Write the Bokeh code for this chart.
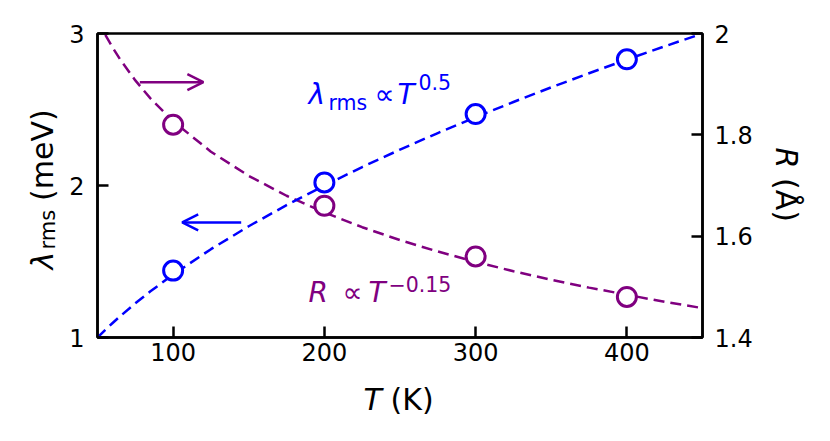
import math
from bokeh.plotting import figure
from bokeh.models import Range1d, LinearAxis, FixedTicker, Label, Arrow, OpenHead
from bokeh.core.properties import value
from bokeh.embed import file_html
from bokeh.resources import INLINE

# ---------------- data ----------------
temps = [100, 200, 300, 400]                 # T (K)
lambda_rms = [1.44, 2.02, 2.47, 2.83]        # meV (left axis)
radius_R = [1.82, 1.66, 1.56, 1.48]          # Angstrom (right axis)

fit_T = [50, 55, 60, 65, 75, 85, 100, 125, 150, 175, 200, 225, 250,
         275, 300, 325, 350, 375, 400, 425, 450]
fit_lambda = [1.0, 1.0488, 1.0954, 1.1402, 1.2247, 1.3038, 1.4142, 1.5811,
              1.7321, 1.8708, 2.0, 2.1213, 2.2361, 2.3452, 2.4495, 2.5495,
              2.6458, 2.7386, 2.8284, 2.9155, 3.0]
fit_R = [2.0270, 1.9981, 1.9723, 1.9487, 1.9074, 1.8719, 1.8268, 1.7667,
         1.7190, 1.6798, 1.6470, 1.6177, 1.5922, 1.5697, 1.5493, 1.5308,
         1.5139, 1.4984, 1.4844, 1.4704, 1.4580]

t_ticks = [100, 200, 300, 400]
lam_ticks = [1, 2, 3]
r_ticks = [1.4, 1.6, 1.8, 2.0]
r_tick_labels = {2.0: "2"}

BLUE = "#0000ff"
PURPLE = "#800080"
FONT = "DejaVu Sans"
SHIFT = 0.346   # bokeh's text anchor sits this many em above the glyph baseline

X0, X1 = 50, 450
Y0, Y1 = 1, 3
FW, FH = 605, 304

p = figure(frame_width=FW, frame_height=FH,
           x_range=Range1d(X0, X1), y_range=Range1d(Y0, Y1),
           output_backend="svg", toolbar_location=None,
           min_border_left=97, min_border_right=112,
           min_border_top=33, min_border_bottom=88,
           background_fill_color="white", border_fill_color="white")
p.extra_y_ranges = {"R": Range1d(1.4, 2.0)}
raxis = LinearAxis(y_range_name="R")
p.add_layout(raxis, "right")

p.xgrid.visible = False
p.ygrid.visible = False
p.outline_line_color = "black"
p.outline_line_width = 2.5
p.outline_line_alpha = 1.0

p.xaxis.ticker = FixedTicker(ticks=t_ticks)
p.yaxis[0].ticker = FixedTicker(ticks=lam_ticks)
raxis.ticker = FixedTicker(ticks=r_ticks)
raxis.major_label_overrides = r_tick_labels

for ax, standoff in [(p.xaxis[0], 5), (p.yaxis[0], 13), (raxis, 12)]:
    ax.axis_line_width = 2.5
    ax.axis_line_color = "black"
    ax.major_tick_in = 11
    ax.major_tick_out = 0
    ax.minor_tick_in = 0
    ax.minor_tick_out = 0
    ax.major_tick_line_width = 2.5
    ax.major_tick_line_color = "black"
    ax.major_label_text_font = FONT
    ax.major_label_text_font_size = "24px"
    ax.major_label_text_color = "black"
    ax.major_label_standoff = standoff
    ax.axis_label = None

# fits (dashed) and data (open circles)
p.line(fit_T, fit_R, y_range_name="R", line_color=PURPLE, line_width=2.5,
       line_dash="11 6")
p.line(fit_T, fit_lambda, line_color=BLUE, line_width=2.5, line_dash="11 6")
p.scatter(temps, radius_R, y_range_name="R", marker="circle", size=19,
          line_color=PURPLE, line_width=3, fill_color="white")
p.scatter(temps, lambda_rms, marker="circle", size=19,
          line_color=BLUE, line_width=3, fill_color="white")

# arrows pointing to the respective axes
p.add_layout(Arrow(end=OpenHead(size=16, line_color=PURPLE, line_width=2.5),
                   x_start=78, y_start=2.68, x_end=120, y_end=2.68,
                   line_color=PURPLE, line_width=2.5))
p.add_layout(Arrow(end=OpenHead(size=16, line_color=BLUE, line_width=2.5),
                   x_start=145, y_start=1.757, x_end=106, y_end=1.757,
                   line_color=BLUE, line_width=2.5))


def lab(text, x, base_y, size, color, italic=False):
    # base_y: glyph baseline, frame pixels measured upward from frame bottom
    p.add_layout(Label(x=x, y=base_y + SHIFT * size,
                       x_units="screen", y_units="screen",
                       text=text, text_font=FONT,
                       text_font_size=f"{size}px", text_color=color,
                       text_font_style="italic" if italic else "normal",
                       text_align="left", text_baseline="alphabetic"))


# in-plot annotations
lab("λ", 211, 233.3, 28, BLUE, italic=True)
lab("rms", 231, 227.7, 20.5, BLUE)
lab("∝", 277, 233.3, 28, BLUE)
lab("T", 300, 233.3, 28, BLUE, italic=True)
lab("0.5", 321, 248.3, 20.5, BLUE)

lab("R", 211, 35.3, 28, PURPLE, italic=True)
lab("∝", 245, 35.3, 28, PURPLE)
lab("T", 271, 35.3, 28, PURPLE, italic=True)
lab("−0.15", 291, 46.5, 20.5, PURPLE)


# axis titles: text glyphs on the overlay level so they can sit outside the frame
def title_piece(text, px, py, size, angle=0.0, italic=False):
    xd = X0 + px * (X1 - X0) / FW
    yd = Y0 + py * (Y1 - Y0) / FH
    p.text(x=[xd], y=[yd], text=[text], level="overlay",
           text_font=value(FONT), text_font_size=value(f"{size}px"),
           text_font_style=value("italic" if italic else "normal"),
           text_color="black", text_align=value("left"),
           text_baseline=value("alphabetic"), angle=angle)


# bottom title, baseline at frame y = -72
title_piece("T", 266, -72 + SHIFT * 30, 30, italic=True)
title_piece("(K)", 293, -72 + SHIFT * 30, 30)

# left title, baseline at frame x = -45 (text reads upward)
title_piece("λ", -45 - SHIFT * 30, 68, 30, angle=math.pi / 2, italic=True)
title_piece("rms", -42 - SHIFT * 21, 88, 21, angle=math.pi / 2)
title_piece("(meV)", -45 - SHIFT * 30, 136.5, 30, angle=math.pi / 2)

# right title, baseline at frame x = 679 (text reads downward)
title_piece("R", 679 + SHIFT * 30, 190, 30, angle=-math.pi / 2, italic=True)
title_piece("(Å)", 679 + SHIFT * 30, 159.5, 30, angle=-math.pi / 2)

open("out.html", "w").write(file_html(p, INLINE))
